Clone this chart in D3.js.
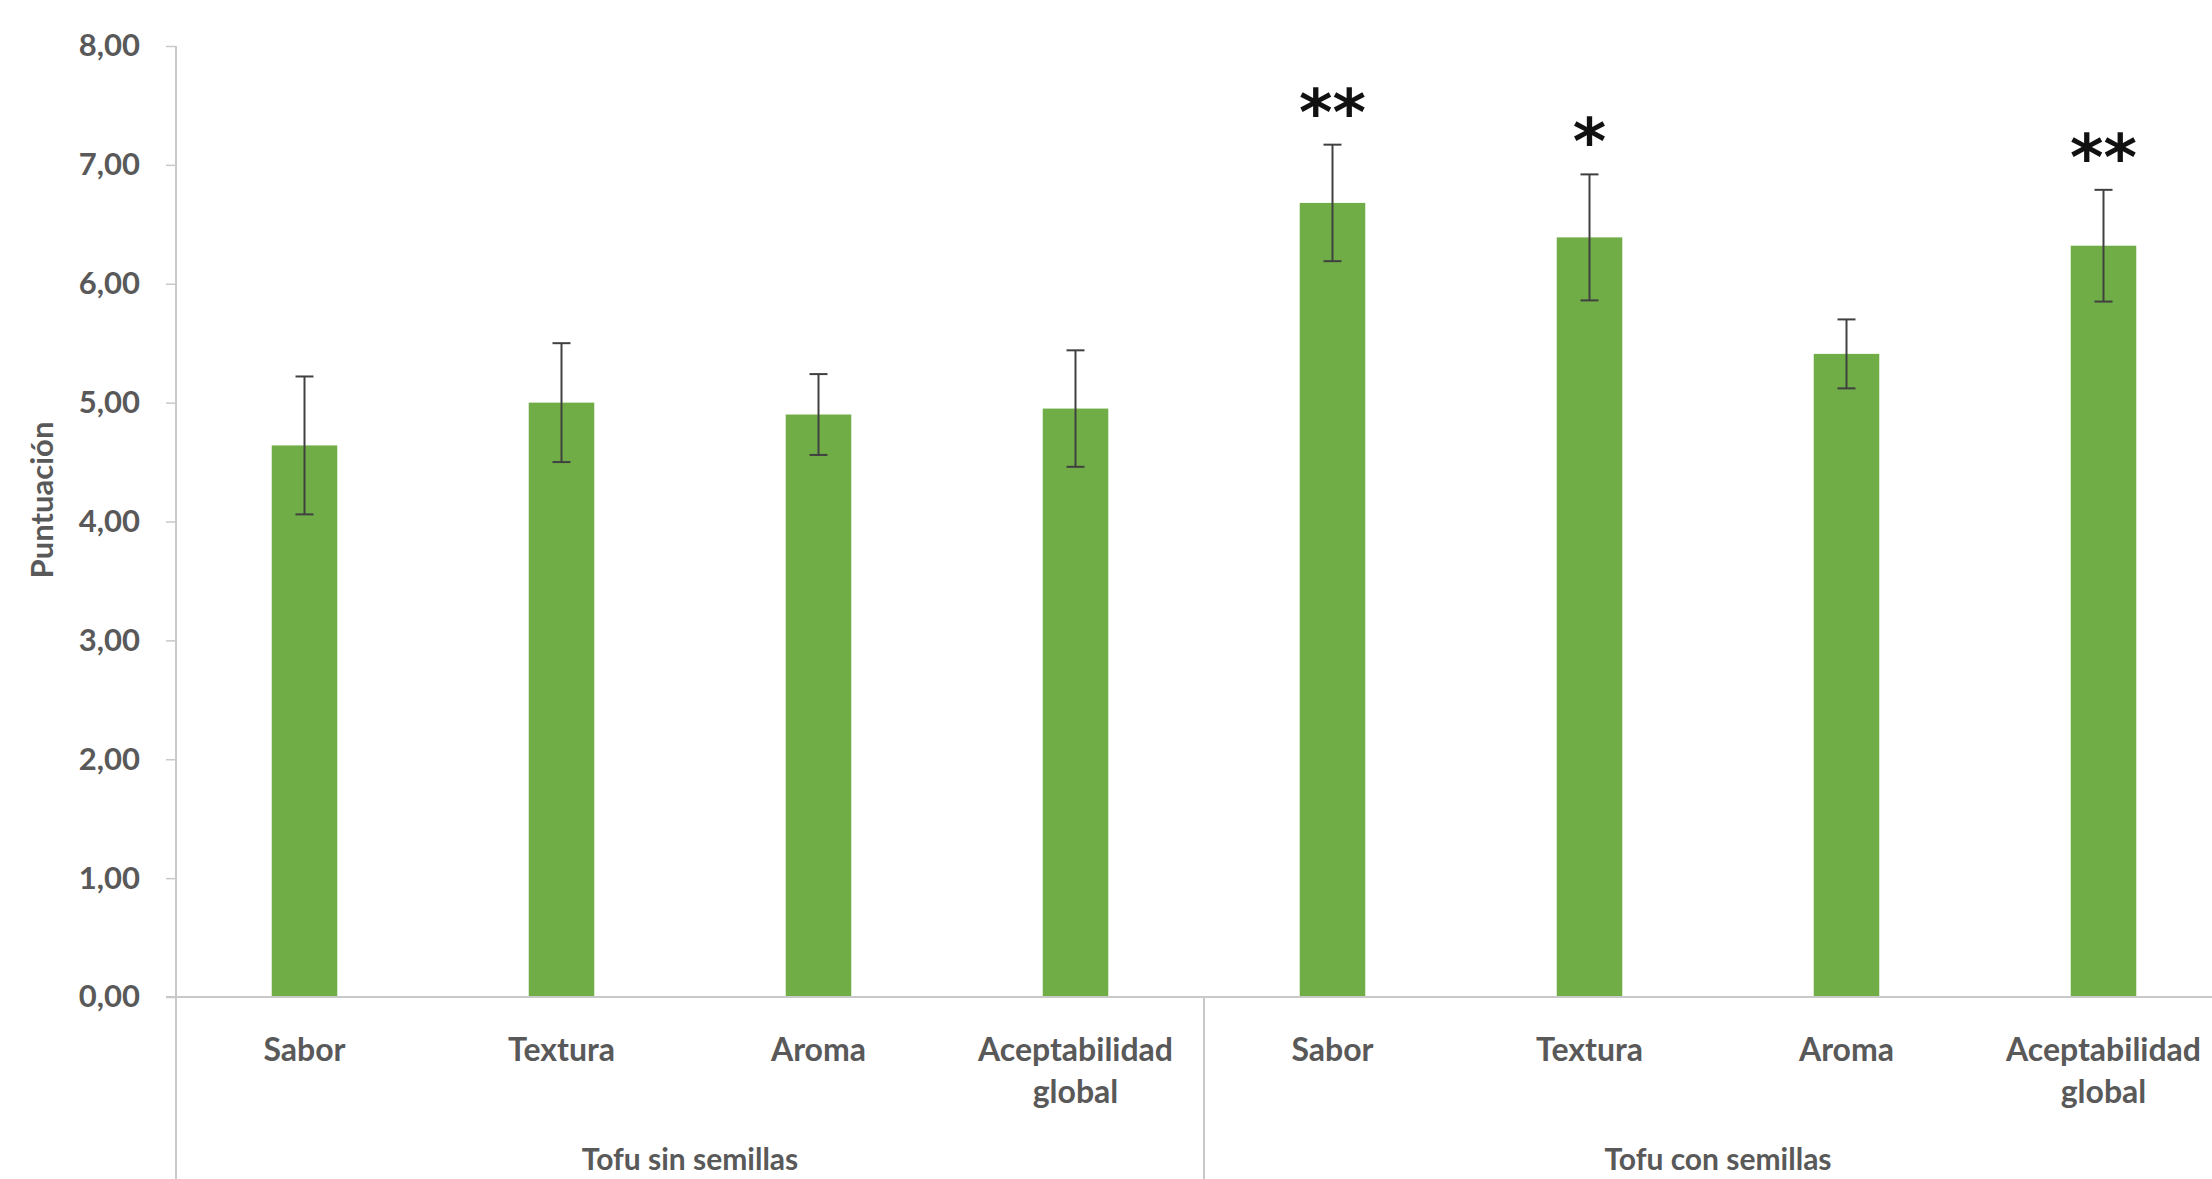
<!DOCTYPE html>
<html>
<head>
<meta charset="utf-8">
<script src="https://cdn.jsdelivr.net/npm/d3@7"></script>
<style>
  body { margin: 0; background: #fff; }
  text { font-family: Lato, "Open Sans", sans-serif; font-weight: bold; fill: #595959; }
</style>
</head>
<body>
<div id="graph"></div>
<script>
// categorías y grupos
var categorias = ["Sabor", "Textura", "Aroma", "Aceptabilidad global"];
var grupos = ["Tofu sin semillas", "Tofu con semillas"];

// medias y desviaciones
var media_sin = [4.64, 5.00, 4.90, 4.95];
var error_sin = [0.58, 0.50, 0.34, 0.49];
var media_con = [6.68, 6.39, 5.41, 6.32];
var error_con = [0.49, 0.53, 0.29, 0.47];
var signif_con = ["**", "*", "", "**"];

var ticks_y = [0, 1, 2, 3, 4, 5, 6, 7, 8];

function dibujar() {
    "use strict";
    var W = 2212, H = 1179,
        x0 = 176, paso = 257, y0 = 997, yTop = 46,
        verde = "#70AD47",
        gris_eje = "#c9c9c9",

        datos = [],
        svg = d3.select("#graph").append("svg")
            .attr("width", W)
            .attr("height", H);

    grupos.forEach(function (g, gi) {
        categorias.forEach(function (c, ci) {
            datos.push({
                id: gi + "-" + ci,
                grupo: gi,
                cat: c,
                media: gi === 0 ? media_sin[ci] : media_con[ci],
                err: gi === 0 ? error_sin[ci] : error_con[ci],
                sig: gi === 0 ? "" : signif_con[ci]
            });
        });
    });

    var x = d3.scaleBand()
            .domain(datos.map(function (d) { return d.id; }))
            .range([x0, x0 + paso * datos.length])
            .paddingInner(0.745)
            .paddingOuter(0.3725),
        y = d3.scaleLinear()
            .domain([0, 8])
            .range([y0, yTop]),
        coma = d3.formatLocale({decimal: ",", thousands: ".", grouping: [3], currency: ["", "€"]}).format(".2f");

    // eje Y
    var ejeY = svg.append("g")
        .attr("transform", "translate(" + x0 + ",0)")
        .call(d3.axisLeft(y).tickValues(ticks_y).tickSize(10).tickPadding(26).tickFormat(coma));
    ejeY.select(".domain").remove();
    ejeY.selectAll(".tick line").attr("stroke", gris_eje).attr("stroke-width", 1.5);
    ejeY.selectAll(".tick text").style("font-size", "31px");

    svg.append("line")
        .attr("x1", x0).attr("x2", x0)
        .attr("y1", y(8)).attr("y2", H)
        .attr("stroke", gris_eje).attr("stroke-width", 2);

    // título eje Y
    svg.append("text")
        .attr("transform", "translate(53,500) rotate(-90)")
        .attr("text-anchor", "middle")
        .style("font-size", "31px")
        .text("Puntuación");

    // barras
    svg.selectAll(".barra")
        .data(datos)
        .enter()
        .append("rect")
        .attr("class", "barra")
        .attr("x", function (d) { return x(d.id); })
        .attr("width", x.bandwidth())
        .attr("y", function (d) { return y(d.media); })
        .attr("height", function (d) { return y0 - y(d.media); })
        .attr("fill", verde);

    // barras de error
    var cx = function (d) { return x(d.id) + x.bandwidth() / 2; },
        err = svg.selectAll(".err").data(datos).enter().append("g")
            .attr("stroke", "#404040").attr("stroke-width", 2);
    err.append("line")
        .attr("x1", cx).attr("x2", cx)
        .attr("y1", function (d) { return y(d.media + d.err); })
        .attr("y2", function (d) { return y(d.media - d.err); });
    [1, -1].forEach(function (s) {
        err.append("line")
            .attr("x1", function (d) { return cx(d) - 9; })
            .attr("x2", function (d) { return cx(d) + 9; })
            .attr("y1", function (d) { return y(d.media + s * d.err); })
            .attr("y2", function (d) { return y(d.media + s * d.err); });
    });

    // asteriscos
    svg.selectAll(".sig")
        .data(datos.filter(function (d) { return d.sig !== ""; }))
        .enter()
        .append("text")
        .attr("x", cx)
        .attr("y", function (d) { return y(d.media + d.err) - 10; })
        .attr("text-anchor", "middle")
        .style("font-family", "'DejaVu Sans'")
        .style("font-weight", "bold")
        .style("font-size", "64px")
        .style("fill", "#111")
        .text(function (d) { return d.sig; });

    // eje X
    var ejeX = svg.append("g")
        .attr("transform", "translate(0," + y0 + ")")
        .call(d3.axisBottom(x).tickSize(0).tickPadding(0)
            .tickFormat(function (id) { return categorias[+id.split("-")[1]]; }));
    ejeX.select(".domain").remove();
    ejeX.selectAll(".tick text").each(function () {
        var t = d3.select(this),
            palabras = t.text().length > 10 ? t.text().split(" ") : [t.text()];
        t.text(null).attr("y", 0).attr("dy", null).style("font-size", "32px");
        palabras.forEach(function (p, i) {
            t.append("tspan").attr("x", 0).attr("y", 64 + i * 42).text(p);
        });
    });
    svg.append("line")
        .attr("x1", x0 - 10).attr("x2", W)
        .attr("y1", y0).attr("y2", y0)
        .attr("stroke", gris_eje).attr("stroke-width", 2);

    // separadores y nombres de grupo
    grupos.forEach(function (g, gi) {
        var xi = x0 + gi * 4 * paso;
        if (gi > 0) {
            svg.append("line")
                .attr("x1", xi).attr("x2", xi)
                .attr("y1", y0).attr("y2", H)
                .attr("stroke", gris_eje).attr("stroke-width", 2);
        }
        svg.append("text")
            .attr("x", xi + 2 * paso)
            .attr("y", 1170)
            .attr("text-anchor", "middle")
            .style("font-size", "30px")
            .text(g);
    });
}

dibujar();
</script>
</body>
</html>
